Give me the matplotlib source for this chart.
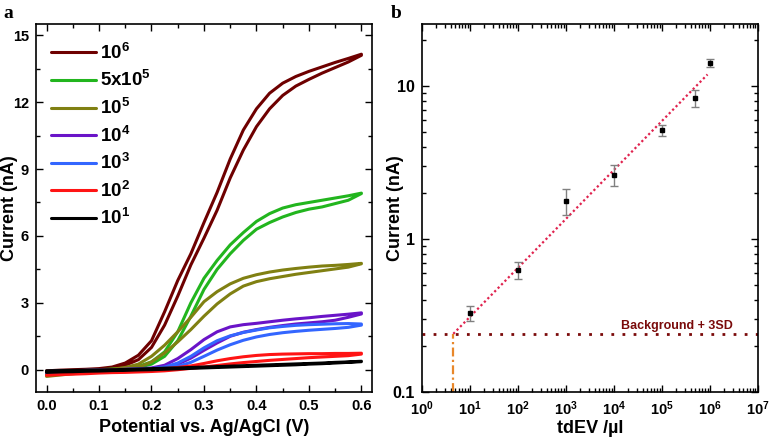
"""
Two panels: cyclic voltammograms (a) and calibration curve on log-log axes (b).
"""
import numpy as np
import matplotlib
matplotlib.use('Agg')
import matplotlib.pyplot as plt
import matplotlib.ticker as mtick

plt.rcParams['font.family'] = ['Liberation Sans', 'DejaVu Sans']
plt.rcParams['font.weight'] = 'bold'
plt.rcParams['mathtext.fontset'] = 'custom'
plt.rcParams['mathtext.rm'] = 'Liberation Sans:bold'
plt.rcParams['mathtext.bf'] = 'Liberation Sans:bold'
plt.rcParams['mathtext.it'] = 'Liberation Sans:bold'

# ---- panel a: potential grid (V) and currents (nA), forward / reverse branches
potential = [0.0, 0.025, 0.05, 0.075, 0.1, 0.125, 0.15, 0.175, 0.2, 0.225, 0.25, 0.275,
             0.3, 0.325, 0.35, 0.375, 0.4, 0.425, 0.45, 0.475, 0.5, 0.525, 0.55, 0.575, 0.6]

i_1e6_fwd = [-0.12, -0.08, -0.05, -0.02, 0.0, 0.06, 0.2, 0.45, 1.0, 2.0, 3.3, 4.7,
             5.9, 7.15, 8.6, 9.85, 10.9, 11.7, 12.3, 12.72, 13.02, 13.3, 13.55, 13.8, 14.1]
i_1e6_rev = [-0.05, -0.02, 0.0, 0.02, 0.05, 0.12, 0.3, 0.65, 1.3, 2.6, 4.0, 5.2,
             6.6, 7.95, 9.45, 10.75, 11.7, 12.4, 12.85, 13.15, 13.38, 13.58, 13.78, 13.96, 14.15]

i_5e5_fwd = [-0.2, -0.15, -0.1, -0.06, -0.03, 0.0, 0.03, 0.1, 0.25, 0.6, 1.3, 2.4,
             3.6, 4.5, 5.2, 5.8, 6.3, 6.6, 6.85, 7.05, 7.2, 7.3, 7.45, 7.6, 7.9]
i_5e5_rev = [-0.15, -0.1, -0.06, -0.03, 0.0, 0.03, 0.07, 0.15, 0.35, 0.8, 1.7, 3.0,
             4.1, 4.9, 5.6, 6.15, 6.65, 7.0, 7.25, 7.4, 7.5, 7.6, 7.7, 7.8, 7.92]

i_1e5_fwd = [-0.3, -0.24, -0.18, -0.13, -0.09, -0.05, 0.0, 0.1, 0.35, 0.75, 1.25, 1.8,
             2.4, 2.95, 3.4, 3.75, 3.95, 4.08, 4.18, 4.28, 4.36, 4.44, 4.52, 4.6, 4.75]
i_1e5_rev = [-0.22, -0.16, -0.11, -0.07, -0.03, 0.02, 0.1, 0.25, 0.6, 1.1, 1.7, 2.35,
             3.05, 3.5, 3.85, 4.1, 4.26, 4.38, 4.47, 4.54, 4.6, 4.65, 4.68, 4.72, 4.77]

i_1e4_fwd = [-0.15, -0.12, -0.09, -0.07, -0.05, -0.03, -0.02, 0.0, 0.02, 0.08, 0.25, 0.52,
             0.87, 1.2, 1.5, 1.68, 1.8, 1.9, 1.98, 2.05, 2.1, 2.15, 2.22, 2.35, 2.5]
i_1e4_rev = [-0.1, -0.07, -0.05, -0.03, -0.01, 0.0, 0.02, 0.04, 0.08, 0.2, 0.5, 0.9,
             1.35, 1.7, 1.92, 2.02, 2.08, 2.15, 2.22, 2.28, 2.33, 2.39, 2.44, 2.49, 2.55]

i_1e3_fwd = [-0.12, -0.1, -0.08, -0.06, -0.05, -0.03, -0.02, -0.01, 0.0, 0.05, 0.15, 0.33,
             0.6, 0.88, 1.12, 1.32, 1.47, 1.58, 1.66, 1.72, 1.77, 1.81, 1.85, 1.9, 2.0]
i_1e3_rev = [-0.08, -0.06, -0.04, -0.03, -0.01, 0.0, 0.01, 0.03, 0.05, 0.12, 0.3, 0.6,
             0.98, 1.3, 1.52, 1.67, 1.78, 1.88, 1.94, 1.99, 2.02, 2.04, 2.06, 2.07, 2.05]

i_1e2_fwd = [-0.25, -0.22, -0.2, -0.18, -0.15, -0.13, -0.12, -0.1, -0.08, -0.05, 0.0, 0.06,
             0.12, 0.19, 0.26, 0.32, 0.37, 0.42, 0.46, 0.5, 0.54, 0.57, 0.6, 0.63, 0.7]
i_1e2_rev = [-0.1, -0.08, -0.05, -0.03, -0.02, -0.01, 0.0, 0.01, 0.02, 0.05, 0.1, 0.17,
             0.28, 0.4, 0.5, 0.58, 0.64, 0.68, 0.7, 0.71, 0.72, 0.72, 0.73, 0.73, 0.74]

i_1e1_fwd = [-0.12, -0.1, -0.09, -0.07, -0.06, -0.04, -0.03, -0.01, 0.0, 0.02, 0.04, 0.06,
             0.08, 0.1, 0.12, 0.14, 0.16, 0.18, 0.2, 0.22, 0.25, 0.27, 0.3, 0.33, 0.36]
i_1e1_rev = [-0.05, -0.04, -0.03, -0.02, -0.01, 0.0, 0.01, 0.03, 0.05, 0.07, 0.08, 0.1,
             0.12, 0.14, 0.16, 0.18, 0.2, 0.22, 0.24, 0.26, 0.28, 0.3, 0.33, 0.35, 0.38]

cv_labels = [r'$\mathbf{10^6}$', r'$\mathbf{5x10^5}$', r'$\mathbf{10^5}$', r'$\mathbf{10^4}$',
             r'$\mathbf{10^3}$', r'$\mathbf{10^2}$', r'$\mathbf{10^1}$']
cv_colors = ['#6e0000', '#22b51e', '#808012', '#6a14c8', '#3366ff', '#ff1414', '#000000']

# ---- panel b: calibration
conc = [10, 100, 1000, 1e4, 1e5, 5e5, 1e6]
current = [0.33, 0.63, 1.77, 2.62, 5.13, 8.35, 14.2]
err_low = [0.04, 0.08, 0.34, 0.41, 0.42, 1.09, 0.9]
err_high = [0.036, 0.08, 0.34, 0.41, 0.40, 1.07, 0.8]
fit_x = [4.5, 9e5]
fit_y = [0.24, 11.9]
background = 0.24
lod_x = 4.5

fig = plt.figure(figsize=(7.7, 4.38), dpi=100)
ax1 = fig.add_axes([0.0468, 0.105, 0.4362, 0.840])
ax2 = fig.add_axes([0.548, 0.105, 0.436, 0.840])

pairs = [(i_1e6_fwd, i_1e6_rev), (i_5e5_fwd, i_5e5_rev), (i_1e5_fwd, i_1e5_rev),
         (i_1e4_fwd, i_1e4_rev), (i_1e3_fwd, i_1e3_rev), (i_1e2_fwd, i_1e2_rev),
         (i_1e1_fwd, i_1e1_rev)]
for (fwd, rev), col, lab in zip(pairs, cv_colors, cv_labels):
    v = list(potential) + list(potential[::-1])
    i = list(fwd) + list(rev[::-1])
    ax1.plot(v, i, color=col, lw=2.2, label=lab, solid_capstyle='round')

ax1.set_xlim(-0.02, 0.62)
ax1.set_ylim(-1.0, 15.5)
ax1.xaxis.set_major_locator(mtick.MultipleLocator(0.1))
ax1.xaxis.set_minor_locator(mtick.MultipleLocator(0.05))
ax1.yaxis.set_major_locator(mtick.MultipleLocator(3))
ax1.yaxis.set_minor_locator(mtick.MultipleLocator(1.5))
ax1.xaxis.set_major_formatter(mtick.FormatStrFormatter('%.1f'))
ax1.set_xlabel('Potential vs. Ag/AgCl (V)', fontsize=13, fontweight='bold', labelpad=4)
ax1.set_ylabel('Current (nA)', fontsize=13, fontweight='bold')
ax1.yaxis.set_label_coords(-0.0536, 0.5)
leg = ax1.legend(loc='upper left', frameon=False, fontsize=13.5, handlelength=2.4,
                 handletextpad=0.2, labelspacing=0.40, borderaxespad=0.4,
                 bbox_to_anchor=(0.0, 0.99))

ax2.errorbar(conc, current, yerr=[err_low, err_high], fmt='s', color='black',
             ms=3.5, ecolor='#808080', elinewidth=1, capsize=3, capthick=1, zorder=5)
ax2.plot(fit_x, fit_y, color='#e0224e', lw=1.6, ls=(0, (1, 1.2)))
ax2.axhline(background, color='#7a0a0a', lw=2, ls=(0, (1, 3)))
ax2.plot([lod_x, lod_x], [0.1, background], color='#e8872a', lw=1.6, ls=(0, (4, 1.5, 1, 1.5)))
ax2.text(0.759, 0.18, 'Background + 3SD', transform=ax2.transAxes, color='#7a0a0a',
         fontsize=9, fontweight='bold', ha='center', va='center')

ax2.set_xscale('log')
ax2.set_yscale('log')
ax2.set_xlim(1, 1e7)
ax2.set_ylim(0.1, 25.4)
ax2.xaxis.set_minor_locator(mtick.LogLocator(base=10, subs=np.arange(2, 10), numticks=20))
ax2.set_xticks([10 ** k for k in range(8)])
ax2.set_xticklabels([r'$\mathbf{10^{%d}}$' % k for k in range(8)])
ax2.set_yticks([0.1, 1, 10])
ax2.set_yticklabels(['0.1', '1', '10'])
ax2.xaxis.set_minor_formatter(mtick.NullFormatter())
ax2.yaxis.set_minor_formatter(mtick.NullFormatter())
ax2.set_xlabel('tdEV /µl', fontsize=13, fontweight='bold', labelpad=2)
ax2.set_ylabel('Current (nA)', fontsize=13, fontweight='bold')
ax2.yaxis.set_label_coords(-0.0536, 0.5)

for ax in (ax1, ax2):
    ax.tick_params(which='both', direction='in', top=True, right=True, labelsize=10.5, width=1)
    ax.tick_params(which='major', length=5, pad=5)
    ax.tick_params(which='minor', length=3)
    for lab in ax.get_xticklabels() + ax.get_yticklabels():
        lab.set_fontweight('bold')
    for s in ax.spines.values():
        s.set_linewidth(1.2)
ax2.tick_params(axis='y', labelsize=11.5)

fig.text(0.005, 0.988, 'a', fontsize=14, fontweight='bold', family='Liberation Serif', va='top')
fig.text(0.508, 0.988, 'b', fontsize=14, fontweight='bold', family='Liberation Serif', va='top')

fig.savefig('out.png', dpi=100)
